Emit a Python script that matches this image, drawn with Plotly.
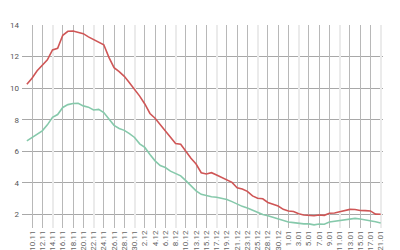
import plotly.graph_objects as go

# daily categories (index positions); labels shown on every second one
dates = ["9.11", "10.11", "11.11", "12.11", "13.11", "14.11", "15.11", "16.11", "17.11", "18.11",
         "19.11", "20.11", "21.11", "22.11", "23.11", "24.11", "25.11", "26.11", "27.11", "28.11",
         "29.11", "30.11", "1.12", "2.12", "3.12", "4.12", "5.12", "6.12", "7.12", "8.12",
         "9.12", "10.12", "12.12", "13.12", "14.12", "15.12", "16.12", "17.12", "18.12", "19.12",
         "20.12", "21.12", "22.12", "23.12", "24.12", "25.12", "27.12", "28.12", "29.12", "30.12",
         "31.12", "1.01", "2.01", "3.01", "4.01", "5.01", "6.01", "7.01", "8.01", "9.01",
         "10.01", "11.01", "12.01", "13.01", "14.01", "15.01", "16.01", "17.01", "19.01", "21.01"]

red_values = [10.25, 10.63, 11.1, 11.42, 11.8, 12.42, 12.52, 13.35, 13.6, 13.62,
              13.55, 13.45, 13.25, 13.1, 12.95, 12.75, 11.95, 11.3, 11.05, 10.75,
              10.35, 9.95, 9.5, 9.0, 8.4, 8.1, 7.7, 7.35, 6.93, 6.5,
              6.45, 5.98, 5.56, 5.2, 4.65, 4.57, 4.65, 4.5, 4.34, 4.19,
              4.04, 3.7, 3.62, 3.47, 3.18, 3.03, 3.0, 2.77, 2.66, 2.54,
              2.33, 2.23, 2.2, 2.05, 1.97, 1.96, 1.93, 1.97, 1.95, 2.08,
              2.1, 2.18, 2.26, 2.33, 2.32, 2.26, 2.25, 2.23, 2.03, 2.02]

green_values = [6.66, 6.87, 7.08, 7.3, 7.68, 8.15, 8.33, 8.78, 8.96, 9.03,
                9.04, 8.88, 8.8, 8.62, 8.66, 8.46, 8.05, 7.65, 7.45, 7.33,
                7.12, 6.88, 6.48, 6.25, 5.8, 5.4, 5.1, 4.98, 4.75, 4.6,
                4.45, 4.15, 3.82, 3.5, 3.28, 3.19, 3.13, 3.1, 3.02, 2.95,
                2.82, 2.65, 2.52, 2.42, 2.27, 2.12, 2.0, 1.92, 1.82, 1.7,
                1.62, 1.53, 1.49, 1.43, 1.41, 1.41, 1.35, 1.4, 1.39, 1.53,
                1.58, 1.61, 1.66, 1.72, 1.76, 1.72, 1.67, 1.62, 1.55, 1.47]

y_ticks = [2, 4, 6, 8, 10, 12, 14]

idx = list(range(len(dates)))
label_idx = idx[1::2]
label_text = [dates[i] for i in label_idx]
light_idx = label_idx[2::4]
dark_idx = [i for i in label_idx if i not in light_idx]

xr = [-0.95, 69.45]

fig = go.Figure()
# invisible carriers so the two grid-only overlay axes get drawn
for ax in ("x3", "x2"):
    fig.add_trace(go.Scatter(x=idx, y=green_values, xaxis=ax, mode="lines",
                             line=dict(color="rgba(0,0,0,0)", width=0),
                             hoverinfo="skip", showlegend=False))
fig.add_trace(go.Scatter(x=idx, y=red_values, mode="lines",
                         line=dict(color="#cf5656", width=1.6), showlegend=False))
fig.add_trace(go.Scatter(x=idx, y=green_values, mode="lines",
                         line=dict(color="#86c9ab", width=1.6), showlegend=False))

fig.update_layout(
    template="none",
    width=400, height=250,
    margin=dict(l=22, r=17, t=25, b=22, pad=0),
    paper_bgcolor="white", plot_bgcolor="white",
    font=dict(family="Roboto, Arial, sans-serif", size=8, color="#666"),
    xaxis=dict(range=xr, tickmode="array", tickvals=label_idx, ticktext=label_text,
               tickangle=-90, showgrid=False, zeroline=False, showline=False,
               ticks="", automargin=False, tickfont=dict(size=8, color="#666")),
    xaxis2=dict(range=xr, overlaying="x", anchor="y", tickmode="array", tickvals=dark_idx,
                showticklabels=False, showgrid=True, gridcolor="#b8b8b8", gridwidth=1,
                zeroline=False, showline=False, ticks="", automargin=False),
    xaxis3=dict(range=xr, overlaying="x", anchor="y", tickmode="array", tickvals=light_idx,
                showticklabels=False, showgrid=True, gridcolor="#ebebeb", gridwidth=2,
                zeroline=False, showline=False, ticks="", automargin=False),
    yaxis=dict(range=[1.15, 14], tickmode="array", tickvals=y_ticks,
               showgrid=True, gridcolor="#a8a8a8", gridwidth=1, zeroline=False,
               showline=False, ticks="", automargin=False, ticklabelstandoff=2,
               tickfont=dict(size=8, color="#555")),
)

fig.write_html("out.html")
